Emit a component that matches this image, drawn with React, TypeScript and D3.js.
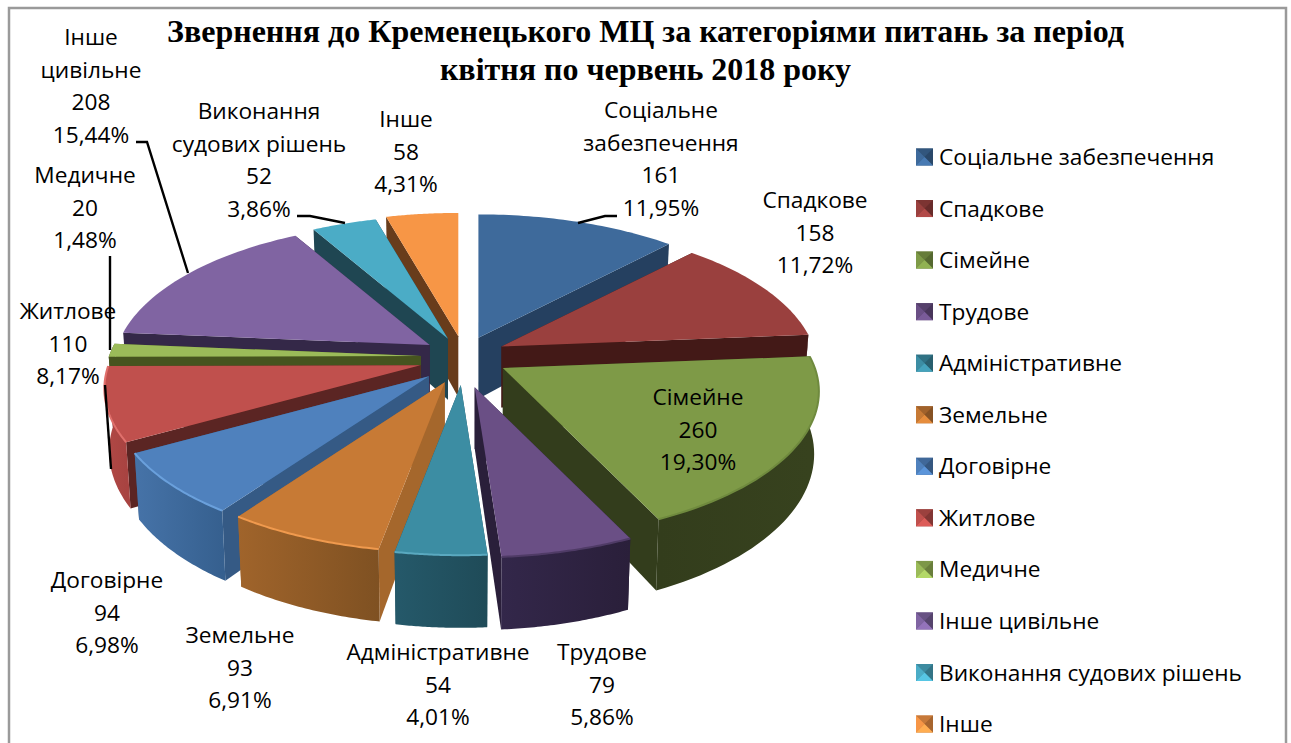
import React from "react";
import * as d3 from "d3";

const categories = ["Соціальне забезпечення","Спадкове","Сімейне","Трудове","Адміністративне","Земельне","Договірне","Житлове","Медичне","Інше цивільне","Виконання судових рішень","Інше"];
const values = [161,158,260,79,54,93,94,110,20,208,52,58];
const percents = ["11,95%","11,72%","19,30%","5,86%","4,01%","6,91%","6,98%","8,17%","1,48%","15,44%","3,86%","4,31%"];
const labelNames = [["Соціальне","забезпечення"],["Спадкове"],["Сімейне"],["Трудове"],["Адміністративне"],["Земельне"],["Договірне"],["Житлове"],["Медичне"],["Інше","цивільне"],["Виконання","судових рішень"],["Інше"]];
const titleLines = ["Звернення до Кременецького МЦ за категоріями питань за період","квітня по червень 2018 року"];

const topColors = ["#3E6A9B","#9A403E","#7E9A47","#6A4F85","#3C8DA3","#C77A35","#4F81BD","#C0504D","#9BBB59","#8064A2","#4BACC6","#F79646"];
const faceColors = ["#254060","#431917","#333D1C","#2A1F3A","#1E4E5C","#A5672C","#355A85","#5B2523","#46541F","#342848","#1F4652","#683C1B"];
const wallLeft = ["#254060","#431917","#333D1C","#33274A","#25596A","#A0642B","#4673A8","#B04845","#46541F","#342848","#1F4652","#683C1B"];
const wallRight = ["#254060","#431917","#37421E","#2A1F3A","#1F4B58","#7F5122","#36608F","#A84341","#46541F","#342848","#1F4652","#683C1B"];
const rimColors = ["none","none","#6F8A3E","#4F3B66","#5AA9C0","#F09A4E","#6AA0DC","#E0706C","none","none","none","none"];

// layout
const W = 1291, H = 743;
const CX = 460, CY = 359, EX = 42, EY = 24;
const A = 312, B = 143, K = 0.16, DEPTH = 61, Q = 0.985;
const explodeScale = [1, 1.15, 1.15, 1, 1, 1, 1, 1, 1, 1, 1, 1];
const shiftX = [3, -2, 1, 4, 3, 1, 0, 1, 3, 5, 4, 4];
const shiftY = [1, -2, -3, 5, 2, 1, 1, 0, -2, -1, 2, 1];
const labelPos: [number, number][] = [[661,110],[815,200],[698,397],[602,652],[438,652],[240,635],[107,580],[68,311],[85,175],[91,37],[259,111],[406,119]];
const LINE_H = 32.6;
const FONT = "'Open Sans', sans-serif";
const FS = 22.7;
const leaders: [number, number][][] = [
  [[617,216],[605,216],[578,223]],
  [[136,142],[147,142],[188,273]],
  [[297,216],[310,216],[345,223]],
  [[110,256],[110,350]],
  [[105,385],[111,469]],
];
const LEG_X = 916, LEG_Y0 = 157, LEG_STEP = 51.55, SW = 17;

const pieGen = d3.pie<number>().sort(null).startAngle(0).endAngle(2 * Math.PI);
const arcs = pieGen(values);
const line = d3.line<[number, number]>();

function buildSlice(i: number) {
  const a0 = arcs[i].startAngle, a1 = arcs[i].endAngle, mid = (a0 + a1) / 2;
  const e = explodeScale[i];
  const ax = CX + EX * e * Math.sin(mid) + shiftX[i];
  const ay = CY - EY * Math.cos(mid) + shiftY[i];
  const top = (a: number): [number, number] => {
    const u = Math.sin(a), v = -Math.cos(a), s = 1 / (1 - K * v);
    return [ax + A * u * s, ay + B * v * s];
  };
  const bot = (a: number): [number, number] => {
    const u = Math.sin(a), v = -Math.cos(a), s = 1 / (1 - K * v);
    return [ax + A * u * s * Q, ay + B * v * s + DEPTH * s];
  };
  const samples = d3.range(0, 41).map(t => a0 + ((a1 - a0) * t) / 40);
  const apexTop: [number, number] = [ax, ay];
  const apexBot: [number, number] = [ax, ay + DEPTH];
  const topPath = line([apexTop, ...samples.map(top)]) + "Z";
  const face = (a: number) => line([apexTop, top(a), bot(a), apexBot]) + "Z";
  const faces = [a0, a1].sort((p, q) => top(p)[1] - top(q)[1]).map(face);
  const wa = Math.max(a0, (85 * Math.PI) / 180), wb = Math.min(a1, (275 * Math.PI) / 180);
  let wallPath: string | null = null, rimPath: string | null = null;
  if (wb > wa) {
    const ws = d3.range(0, 41).map(t => wa + ((wb - wa) * t) / 40);
    wallPath = line([...ws.map(top), ...ws.slice().reverse().map(bot)]) + "Z";
    rimPath = line(ws.map(top));
  }
  const xs = wallPath ? [top(wa)[0], top(wb)[0]] : [0, 1];
  return { topPath, faces, wallPath, rimPath, x1: Math.min(...xs), x2: Math.max(...xs) };
}

const slices = values.map((_, i) => ({ i, ...buildSlice(i) }));
const order = d3.range(values.length).sort((p, q) => {
  const mp = (arcs[p].startAngle + arcs[p].endAngle) / 2;
  const mq = (arcs[q].startAngle + arcs[q].endAngle) / 2;
  return -Math.cos(mp) + Math.cos(mq);
});

function Swatch({ y, color }: { y: number; color: string }) {
  const x0 = LEG_X, y0 = y - SW / 2, x1 = x0 + SW, y1 = y0 + SW, mx = x0 + SW / 2, my = y;
  const c = d3.color(color)!;
  const base = c.formatHex();
  const light = c.brighter(0.4).formatHex();
  const mid = c.darker(0.6).formatHex();
  const dark = c.darker(1.1).formatHex();
  return (
    <g>
      <rect x={x0} y={y0} width={SW} height={SW} fill={mid} />
      <path d={line([[x0,y0],[x1,y0],[mx,my]])! + "Z"} fill={mid} />
      <path d={line([[x0,y0],[x0,y1],[mx,my]])! + "Z"} fill={base} />
      <path d={line([[x1,y0],[x1,y1],[mx,my]])! + "Z"} fill={dark} />
      <path d={line([[x0,y1],[x1,y1],[mx,my]])! + "Z"} fill={light} />
    </g>
  );
}

export default function App() {
  return (
    <svg width={W} height={H} viewBox={`0 0 ${W} ${H}`} style={{ position: "absolute", left: 0, top: 0, background: "#fff", display: "block" }}>
      <defs>
        {slices.map(s => (
          <linearGradient key={s.i} id={`wall${s.i}`} gradientUnits="userSpaceOnUse" x1={s.x1} x2={s.x2} y1={0} y2={0}>
            <stop offset="0" stopColor={wallLeft[s.i]} />
            <stop offset="1" stopColor={wallRight[s.i]} />
          </linearGradient>
        ))}
      </defs>
      <rect x={9} y={8} width={1277} height={750} fill="#fff" stroke="#9A9A9A" strokeWidth={2.5} />
      {titleLines.map((t, i) => (
        <text key={i} x={645.5} y={42 + i * 38} textAnchor="middle" fontFamily="'Liberation Serif', serif" fontWeight={700} fontSize={32} fill="#000">{t}</text>
      ))}
      {order.map(i => {
        const s = slices[i];
        return (
          <g key={i}>
            {s.faces.map((d, j) => <path key={j} d={d} fill={faceColors[i]} />)}
            {s.wallPath && <path d={s.wallPath} fill={`url(#wall${i})`} />}
            <path d={s.topPath} fill={topColors[i]} />
            {s.rimPath && rimColors[i] !== "none" && <path d={s.rimPath} fill="none" stroke={rimColors[i]} strokeWidth={2} />}
          </g>
        );
      })}
      {leaders.map((p, i) => (
        <path key={i} d={line(p)!} fill="none" stroke="#000" strokeWidth={2.4} />
      ))}
      {values.map((v, i) => {
        const lines = [...labelNames[i], String(v), percents[i]];
        const [x, y] = labelPos[i];
        return (
          <text key={i} textAnchor="middle" fontFamily={FONT} fontSize={FS} fill="#000">
            {lines.map((l, j) => <tspan key={j} x={x} y={y + 8 + j * LINE_H}>{l}</tspan>)}
          </text>
        );
      })}
      {categories.map((c, i) => {
        const y = LEG_Y0 + i * LEG_STEP;
        return (
          <g key={i}>
            <Swatch y={y} color={topColors[i]} />
            <text x={939} y={y + 8} fontFamily={FONT} fontSize={FS} fill="#000">{c}</text>
          </g>
        );
      })}
    </svg>
  );
}
